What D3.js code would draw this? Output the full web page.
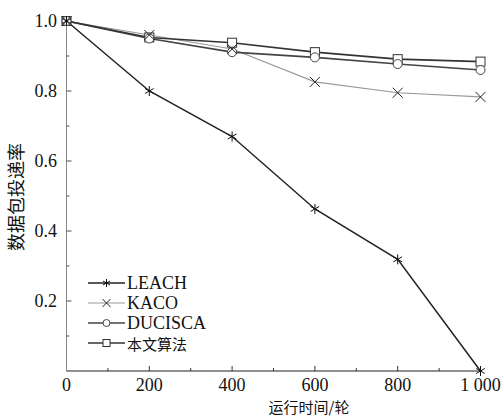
<!DOCTYPE html>
<html><head><meta charset="utf-8">
<script src="https://cdn.jsdelivr.net/npm/d3@7"></script>
<style>body{margin:0;background:#fff;}svg{display:block;}</style>
</head><body>
<svg id="c" width="502" height="416"></svg>
<script>
const rounds = [0, 200, 400, 600, 800, 1000];
const leach = [1.0, 0.80, 0.67, 0.463, 0.319, 0.0];
const kaco = [1.0, 0.96, 0.92, 0.826, 0.795, 0.783];
const ducisca = [1.0, 0.95, 0.911, 0.896, 0.877, 0.86];
const ours = [1.0, 0.953, 0.938, 0.911, 0.891, 0.884];
const seriesNames = ["LEACH", "KACO", "DUCISCA", "本文算法"];
const xTicks = [0, 200, 400, 600, 800, 1000];
const xTickLabels = ["0", "200", "400", "600", "800", "1 000"];
const yTicks = [0.2, 0.4, 0.6, 0.8, 1.0];
const yTickLabels = ["0.2", "0.4", "0.6", "0.8", "1.0"];

const svg = d3.select("#c");
const x = d3.scaleLinear().domain([0, 1000]).range([66.5, 480.5]);
const y = d3.scaleLinear().domain([0, 1]).range([371, 21]);
const serif = "'Liberation Serif'";
const cjk = "'Noto Sans CJK SC'";

// axes lines
svg.append("line").attr("x1", x(0)).attr("x2", x(0)).attr("y1", y(0)).attr("y2", y(1))
  .attr("stroke", "#888").attr("stroke-width", 1);
svg.append("line").attr("x1", x(0)).attr("x2", x(1000)).attr("y1", y(0)).attr("y2", y(0))
  .attr("stroke", "#222").attr("stroke-width", 1.2);

// x ticks (inward)
d3.range(100, 1001, 100).forEach(v => {
  const major = v % 200 === 0;
  svg.append("line").attr("x1", x(v)).attr("x2", x(v)).attr("y1", y(0)).attr("y2", y(0) - (major ? 5 : 3))
    .attr("stroke", "#333").attr("stroke-width", 1);
});
// y ticks (inward)
d3.range(1, 10).forEach(i => {
  const v = i / 10;
  const major = i % 2 === 0;
  svg.append("line").attr("x1", x(0)).attr("x2", x(0) + (major ? 5 : 3)).attr("y1", y(v)).attr("y2", y(v))
    .attr("stroke", "#555").attr("stroke-width", 1);
});

// tick labels
svg.append("g").selectAll("text").data(xTicks).join("text")
  .attr("x", d => x(d)).attr("y", 391).attr("text-anchor", "middle")
  .style("font-family", serif).style("font-size", "18px").attr("fill", "#111")
  .text((d, i) => xTickLabels[i]);
svg.append("g").selectAll("text").data(yTicks).join("text")
  .attr("x", 57).attr("y", d => y(d) + 6).attr("text-anchor", "end")
  .style("font-family", serif).style("font-size", "18px").attr("fill", "#111")
  .text((d, i) => yTickLabels[i]);

// axis titles
svg.append("text").attr("x", 309).attr("y", 413).attr("text-anchor", "middle")
  .style("font-family", cjk).style("font-size", "15px").attr("fill", "#111").text("运行时间/轮");
svg.append("text").attr("transform", "translate(23,197) rotate(-90)").attr("text-anchor", "middle")
  .style("font-family", cjk).style("font-size", "18px").attr("fill", "#111").text("数据包投递率");

const data = [leach, kaco, ducisca, ours];
const styles = [
  {stroke: "#222", width: 1.5, marker: "star"},
  {stroke: "#999", width: 1.2, marker: "x"},
  {stroke: "#444", width: 1.6, marker: "circle"},
  {stroke: "#333", width: 1.6, marker: "square"}
];
const line = d3.line().x((d, i) => x(rounds[i])).y(d => y(d));

function drawMarker(g, type, cx, cy, s) {
  if (type === "star") {
    [0, 60, 120].forEach(a => {
      const r = a * Math.PI / 180;
      g.append("line").attr("x1", cx - s * Math.sin(r)).attr("y1", cy - s * Math.cos(r))
        .attr("x2", cx + s * Math.sin(r)).attr("y2", cy + s * Math.cos(r))
        .attr("stroke", "#111").attr("stroke-width", 1);
    });
  } else if (type === "x") {
    g.append("path").attr("d", `M${cx - s},${cy - s}L${cx + s},${cy + s}M${cx - s},${cy + s}L${cx + s},${cy - s}`)
      .attr("stroke", "#222").attr("stroke-width", 1).attr("fill", "none");
  } else if (type === "circle") {
    g.append("circle").attr("cx", cx).attr("cy", cy).attr("r", s)
      .attr("fill", "#fff").attr("stroke", "#444").attr("stroke-width", 1);
  } else {
    g.append("rect").attr("x", cx - s).attr("y", cy - s).attr("width", 2 * s).attr("height", 2 * s)
      .attr("fill", "#fff").attr("stroke", "#333").attr("stroke-width", 1);
  }
}

data.forEach((vals, k) => {
  const st = styles[k];
  svg.append("path").datum(vals).attr("d", line).attr("fill", "none")
    .attr("stroke", st.stroke).attr("stroke-width", st.width);
});
[3, 2, 1, 0].forEach(k => {
  const st = styles[k];
  const g = svg.append("g");
  data[k].forEach((v, i) => drawMarker(g, st.marker, x(rounds[i]), y(v), k >= 2 ? 4.5 : 5));
});

// legend
const legY = [283, 303, 323, 343];
seriesNames.forEach((name, k) => {
  const st = styles[k];
  const g = svg.append("g");
  g.append("line").attr("x1", 88).attr("x2", 125).attr("y1", legY[k]).attr("y2", legY[k])
    .attr("stroke", st.stroke).attr("stroke-width", st.width);
  drawMarker(g, st.marker, 106.5, legY[k], k >= 2 ? 3.5 : 4);
  g.append("text").attr("x", 127).attr("y", legY[k] + (k === 3 ? 7 : 6))
    .style("font-family", k === 3 ? cjk : serif).style("font-size", k === 3 ? "15px" : "18px").attr("fill", "#111").text(name);
});
</script>
</body></html>
